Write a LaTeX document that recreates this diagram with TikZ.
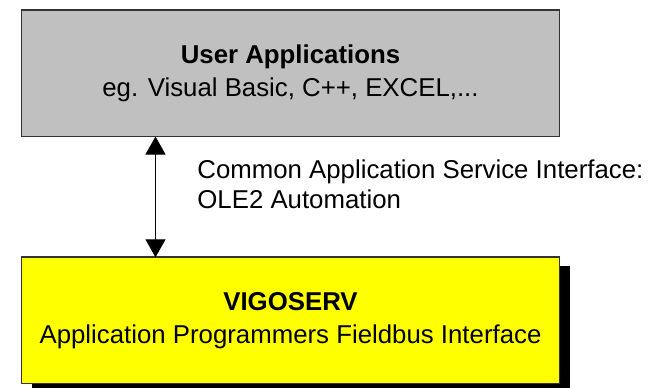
\documentclass[tikz,border=0pt]{standalone}
\usepackage{fontspec}
\setmainfont{Liberation Sans}
\usetikzlibrary{arrows.meta,shadows}
\definecolor{boxgray}{HTML}{C0C0C0}
\definecolor{boxyellow}{HTML}{FFFF00}
\definecolor{edgedark}{HTML}{333333}
\begin{document}
\begin{tikzpicture}[x=0.5pt,y=-0.5pt,
  layerbox/.style={draw=edgedark,line width=0.75pt,rectangle,minimum width=269pt,minimum height=63.25pt,inner sep=0pt,align=center,font=\fontsize{12.9}{16.6}\selectfont},
  boxshadow/.style={drop shadow={shadow xshift=5pt,shadow yshift=-4.5pt,opacity=1,fill=black}},
  conn/.style={line width=0.5pt,{Triangle[width=10pt,length=9pt]}-{Triangle[width=10pt,length=9pt]}},
  label/.style={anchor=base west,align=left,inner sep=0pt,font=\fontsize{12.9}{14.6}\selectfont}]
\useasboundingbox (0,0) rectangle (653,387);
\node[layerbox,fill=boxgray] (apps) at (290.5,73.25) {\textbf{User Applications}\\eg. Visual Basic, C++, EXCEL,...};
\node[layerbox,fill=boxyellow,boxshadow] (vigo) at (290.5,320.3) {\textbf{VIGOSERV}\\Application Programmers Fieldbus Interface};
\coordinate (top) at (155.5,136.5);
\coordinate (bot) at (155.5,257.3);
\draw[conn] (top) -- (bot);
\node[label] (iface) at (197,208) {Common Application Service Interface:\\OLE2 Automation};
\end{tikzpicture}
\end{document}
